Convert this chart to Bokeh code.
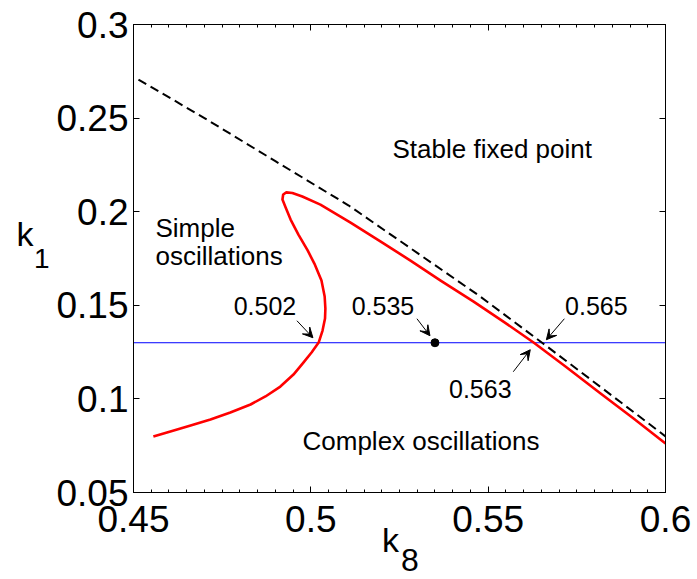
from bokeh.plotting import figure
from bokeh.models import Range1d, FixedTicker, LinearAxis, Label, Arrow, VeeHead
from bokeh.embed import file_html
from bokeh.resources import INLINE

# Hopf bifurcation curve (red), two-parameter continuation in (k8, k1)
hopf_k8 = [0.4556, 0.4604, 0.4661, 0.4717, 0.4773, 0.4830, 0.4872, 0.4914,
           0.4951, 0.4979, 0.5002, 0.5022, 0.5033, 0.5040, 0.5041, 0.5039,
           0.5030, 0.5010, 0.4991, 0.4965, 0.4943, 0.4929, 0.4920, 0.4922,
           0.4931, 0.4948, 0.4976, 0.5027, 0.5112, 0.5196, 0.5281, 0.5366,
           0.5459, 0.5543, 0.5628, 0.5718, 0.5817, 0.5910, 0.6000]
hopf_k1 = [0.0799, 0.0826, 0.0858, 0.0890, 0.0927, 0.0970, 0.1013, 0.1066,
           0.1130, 0.1194, 0.1248, 0.1301, 0.1365, 0.1429, 0.1483, 0.1547,
           0.1632, 0.1723, 0.1793, 0.1878, 0.1958, 0.2022, 0.2065, 0.2092,
           0.2103, 0.2100, 0.2081, 0.2038, 0.1942, 0.1841, 0.1739, 0.1632,
           0.1520, 0.1413, 0.1301, 0.1173, 0.1029, 0.0895, 0.0762]

# Boundary of the stable fixed point region (dashed)
stab_k8 = [0.4514, 0.4700, 0.4900, 0.5107, 0.5300, 0.5474, 0.5652, 0.5800, 0.6000]
stab_k1 = [0.2706, 0.2500, 0.2270, 0.2033, 0.1780, 0.1552, 0.1300, 0.1088, 0.0800]

# Horizontal section k1 = const and marked crossings
k1_section = 0.13
marked_k8 = [0.502, 0.535, 0.565, 0.563]
marked_text = ["0.502", "0.535", "0.565", "0.563"]

x_ticks = [0.45, 0.5, 0.55, 0.6]
x_tick_labels = ["0.45", "0.5", "0.55", "0.6"]
y_ticks = [0.05, 0.1, 0.15, 0.2, 0.25, 0.3]
y_tick_labels = ["0.05", "0.1", "0.15", "0.2", "0.25", "0.3"]
x_minor = [round(0.45 + 0.005 * i, 3) for i in range(31)]

X0, X1, Y0, Y1 = 0.45, 0.6, 0.05, 0.3
FW, FH = 532, 468
LEFT, TOP = 133, 24
FONT = "Liberation Sans"


def dx(px):
    return px * (X1 - X0) / FW


def dy(px):
    return px * (Y1 - Y0) / FH


def at_x(px):
    return X0 + dx(px - LEFT)


def at_y(py):
    return Y1 - dy(py - TOP)


p = figure(frame_width=FW, frame_height=FH,
           x_range=Range1d(X0, X1), y_range=Range1d(Y0, Y1),
           output_backend="svg", toolbar_location=None,
           min_border_left=LEFT, min_border_right=32,
           min_border_top=TOP, min_border_bottom=87,
           background_fill_color="white", border_fill_color="white")
p.xgrid.visible = False
p.ygrid.visible = False
p.outline_line_color = "black"
p.outline_line_width = 1

xt = FixedTicker(ticks=x_ticks, minor_ticks=x_minor)
yt = FixedTicker(ticks=y_ticks, minor_ticks=[])


def style_axis(ax, labels):
    ax.axis_line_color = "black"
    ax.major_tick_in = 6
    ax.major_tick_out = 0
    ax.minor_tick_in = 3
    ax.minor_tick_out = 0
    ax.major_tick_line_color = "black"
    ax.minor_tick_line_color = "black"
    if labels:
        ax.major_label_text_font = FONT
        ax.major_label_text_font_size = "37px"
        ax.major_label_text_color = "black"
    else:
        ax.major_label_text_font_size = "1px"
        ax.major_label_text_color = None


xa = p.xaxis[0]
xa.ticker = xt
xa.major_label_overrides = dict(zip(x_ticks, x_tick_labels))
xa.major_label_standoff = 13
style_axis(xa, True)

ya = p.yaxis[0]
ya.ticker = yt
ya.major_label_overrides = dict(zip(y_ticks, y_tick_labels))
ya.major_label_standoff = 5
style_axis(ya, True)

top_ax = LinearAxis(ticker=xt)
style_axis(top_ax, False)
p.add_layout(top_ax, "above")
right_ax = LinearAxis(ticker=yt)
style_axis(right_ax, False)
p.add_layout(right_ax, "right")


def name_axis(pos, text, size, standoff):
    """Bare axis carrying a single horizontal text: used for k with its subscript."""
    ax = LinearAxis(ticker=FixedTicker(ticks=[pos], minor_ticks=[]),
                    major_label_overrides={pos: text})
    ax.axis_line_color = None
    ax.major_tick_line_color = None
    ax.minor_tick_line_color = None
    ax.major_tick_in = ax.major_tick_out = 0
    ax.minor_tick_in = ax.minor_tick_out = 0
    ax.major_label_text_font = FONT
    ax.major_label_text_font_size = size
    ax.major_label_text_color = "black"
    ax.major_label_standoff = standoff
    return ax


# k_1 on the left: subscript axis next to the tick labels, k further out
p.add_layout(name_axis(at_y(258), "1", "28px", 4), "left")
p.add_layout(name_axis(at_y(233), "k", "34px", -3), "left")
# k_8 below
p.add_layout(name_axis(at_x(390), "k", "34px", -14), "below")
p.add_layout(name_axis(at_x(409.5), "8", "32px", -13), "below")

# section line
p.line([X0, X1], [k1_section, k1_section], line_color="#0000ff", line_width=1)
# stability boundary
p.line(stab_k8, stab_k1, line_color="black", line_width=2, line_dash="9 5")
# Hopf curve
p.line(hopf_k8, hopf_k1, line_color="#ff0000", line_width=2.6, line_join="round")
# marked point on the section
p.scatter([marked_k8[1]], [k1_section], size=8, color="black")

# arrows and value labels: (text dx, text dy, tail dx, tail dy, tip dx, tip dy) in px
offsets = [(-53, -37, -21, -22, -5, -5),
           (-52, -37, -18, -24, -5, -7),
           (55, -37, 23, -24, 5, -3),
           (-54, 46, -21, 29, -4, 7)]
for k8, txt, (tx, ty, ax0, ay0, ax1, ay1) in zip(marked_k8, marked_text, offsets):
    p.add_layout(Arrow(end=VeeHead(size=10, fill_color="black", line_color="black", line_width=1),
                       x_start=k8 + dx(ax0), y_start=k1_section - dy(ay0),
                       x_end=k8 + dx(ax1), y_end=k1_section - dy(ay1),
                       line_color="black", line_width=1))
    p.add_layout(Label(x=k8 + dx(tx), y=k1_section - dy(ty), text=txt,
                       text_font=FONT, text_font_size="25px", text_color="black",
                       text_align="center", text_baseline="middle"))

# region labels
region_labels = [("Stable fixed point", 392, 148),
                 ("Simple", 155, 227),
                 ("oscillations", 155, 255),
                 ("Complex oscillations", 302, 440)]
for txt, px, py in region_labels:
    p.add_layout(Label(x=at_x(px), y=at_y(py), text=txt, text_font=FONT,
                       text_font_size="26px", text_color="black",
                       text_align="left", text_baseline="alphabetic"))

open("out.html", "w").write(file_html(p, INLINE))
